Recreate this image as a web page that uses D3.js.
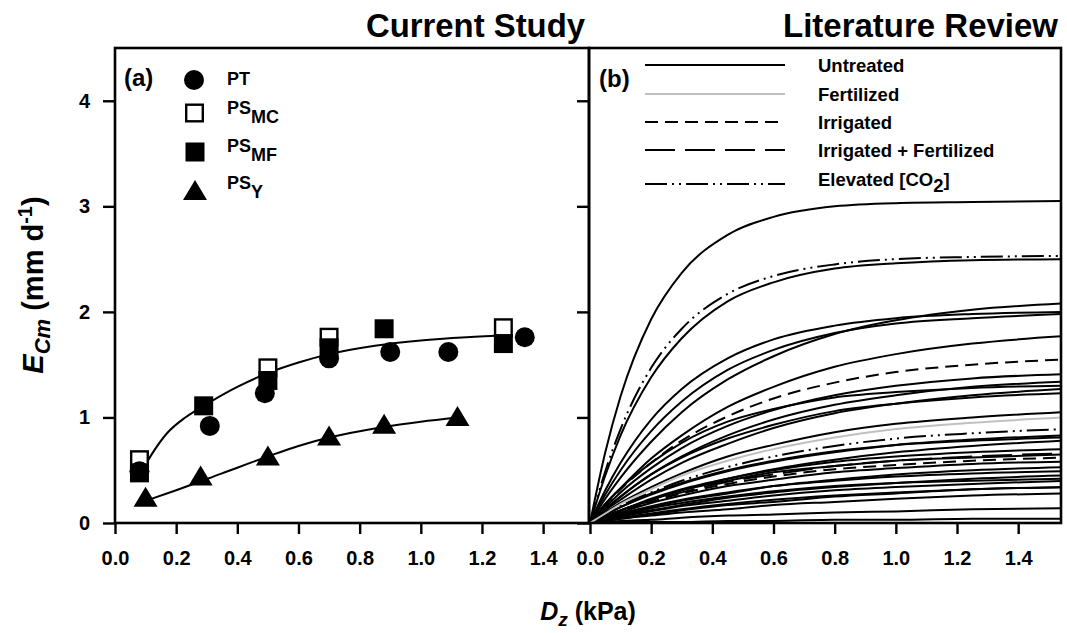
<!DOCTYPE html>
<html>
<head>
<meta charset="utf-8">
<script src="https://cdn.jsdelivr.net/npm/d3@7"></script>
<style>
body { margin: 0; background: #fff; }
svg text { font-family: "Liberation Sans", Arial, sans-serif; font-weight: bold; fill: #000; }
</style>
</head>
<body>
<svg id="chart" width="1067" height="633"></svg>
<script>
// ---- data ----
const xTicks = [0, 0.2, 0.4, 0.6, 0.8, 1.0, 1.2, 1.4];
const yTicks = [0, 1, 2, 3, 4];

// panel (a) observations
const ptX = [0.08, 0.31, 0.49, 0.70, 0.90, 1.09, 1.34];
const ptY = [0.49, 0.92, 1.23, 1.56, 1.62, 1.62, 1.76];
const mcX = [0.08, 0.50, 0.70, 1.27];
const mcY = [0.60, 1.47, 1.76, 1.85];
const mfX = [0.08, 0.29, 0.50, 0.70, 0.88, 1.27];
const mfY = [0.475, 1.11, 1.35, 1.66, 1.84, 1.70];
const psyX = [0.10, 0.28, 0.50, 0.70, 0.88, 1.12];
const psyY = [0.24, 0.44, 0.63, 0.82, 0.93, 1.005];

// panel (a) fitted curves
const fitPsX = [0.08, 0.12, 0.17, 0.23, 0.29, 0.40, 0.50, 0.60, 0.70, 0.85, 1.00, 1.15, 1.30];
const fitPsY = [0.45, 0.65, 0.85, 1.00, 1.11, 1.29, 1.42, 1.52, 1.60, 1.68, 1.73, 1.76, 1.78];
const fitYX = [0.10, 0.20, 0.35, 0.50, 0.60, 0.70, 0.80, 0.90, 1.00, 1.12];
const fitYY = [0.21, 0.31, 0.47, 0.63, 0.73, 0.81, 0.87, 0.92, 0.96, 1.00];

// panel (b) literature curves, sampled at litX
const litX = [0, 0.05, 0.1, 0.2, 0.3, 0.45, 0.6, 0.8, 1.0, 1.25, 1.55];
const litTypes = [
  "untreated", "co2", "untreated", "untreated", "untreated", "untreated", "untreated",
  "irrigated", "untreated", "untreated", "untreated", "untreated", "untreated", "untreated",
  "co2", "untreated", "untreated", "untreated", "irrfert", "irrigated",
  "untreated", "untreated", "untreated", "untreated", "untreated", "untreated", "untreated",
  "untreated", "untreated", "untreated", "untreated", "untreated", "untreated", "fertilized"
];
const litValues = [
  [0, 0.67, 1.20, 1.93, 2.37, 2.73, 2.90, 3.00, 3.03, 3.04, 3.05],
  [0, 0.49, 0.89, 1.47, 1.84, 2.17, 2.34, 2.45, 2.50, 2.52, 2.53],
  [0, 0.45, 0.83, 1.38, 1.75, 2.10, 2.28, 2.41, 2.46, 2.49, 2.50],
  [0, 0.23, 0.43, 0.77, 1.05, 1.36, 1.58, 1.79, 1.92, 2.02, 2.08],
  [0, 0.31, 0.57, 0.98, 1.27, 1.56, 1.74, 1.87, 1.94, 1.98, 2.00],
  [0, 0.27, 0.50, 0.87, 1.15, 1.45, 1.64, 1.80, 1.89, 1.94, 1.98],
  [0, 0.18, 0.33, 0.61, 0.83, 1.10, 1.29, 1.48, 1.60, 1.70, 1.77],
  [0, 0.17, 0.32, 0.57, 0.78, 1.01, 1.18, 1.33, 1.43, 1.50, 1.55],
  [0, 0.15, 0.29, 0.52, 0.71, 0.92, 1.07, 1.21, 1.30, 1.37, 1.41],
  [0, 0.13, 0.25, 0.46, 0.63, 0.83, 0.98, 1.12, 1.21, 1.29, 1.34],
  [0, 0.18, 0.33, 0.57, 0.76, 0.96, 1.08, 1.19, 1.24, 1.28, 1.30],
  [0, 0.12, 0.22, 0.41, 0.57, 0.75, 0.90, 1.04, 1.13, 1.21, 1.27],
  [0, 0.13, 0.25, 0.46, 0.62, 0.80, 0.93, 1.06, 1.13, 1.19, 1.23],
  [0, 0.10, 0.19, 0.34, 0.47, 0.63, 0.74, 0.86, 0.94, 1.00, 1.05],
  [0, 0.08, 0.16, 0.29, 0.40, 0.53, 0.63, 0.73, 0.80, 0.85, 0.89],
  [0, 0.08, 0.15, 0.27, 0.37, 0.49, 0.58, 0.67, 0.74, 0.79, 0.83],
  [0, 0.08, 0.15, 0.28, 0.38, 0.50, 0.59, 0.68, 0.74, 0.78, 0.81],
  [0, 0.06, 0.12, 0.22, 0.31, 0.42, 0.51, 0.60, 0.67, 0.73, 0.78],
  [0, 0.06, 0.12, 0.21, 0.29, 0.39, 0.46, 0.54, 0.59, 0.63, 0.66],
  [0, 0.06, 0.11, 0.20, 0.28, 0.37, 0.44, 0.51, 0.55, 0.59, 0.62],
  [0, 0.07, 0.12, 0.23, 0.32, 0.42, 0.50, 0.58, 0.63, 0.67, 0.70],
  [0, 0.06, 0.12, 0.22, 0.31, 0.40, 0.48, 0.54, 0.59, 0.62, 0.65],
  [0, 0.05, 0.10, 0.19, 0.26, 0.35, 0.41, 0.48, 0.52, 0.56, 0.58],
  [0, 0.04, 0.08, 0.15, 0.21, 0.28, 0.35, 0.41, 0.46, 0.50, 0.53],
  [0, 0.05, 0.09, 0.16, 0.22, 0.29, 0.35, 0.40, 0.44, 0.47, 0.49],
  [0, 0.03, 0.07, 0.12, 0.17, 0.24, 0.29, 0.34, 0.38, 0.42, 0.45],
  [0, 0.04, 0.07, 0.14, 0.19, 0.25, 0.30, 0.35, 0.38, 0.40, 0.42],
  [0, 0.03, 0.06, 0.11, 0.16, 0.21, 0.26, 0.31, 0.34, 0.37, 0.40],
  [0, 0.02, 0.04, 0.08, 0.12, 0.17, 0.20, 0.25, 0.28, 0.32, 0.34],
  [0, 0.03, 0.05, 0.09, 0.13, 0.18, 0.22, 0.26, 0.29, 0.32, 0.34],
  [0, 0.02, 0.04, 0.07, 0.10, 0.13, 0.17, 0.20, 0.23, 0.26, 0.28],
  [0, 0.01, 0.02, 0.03, 0.05, 0.07, 0.08, 0.10, 0.11, 0.13, 0.14],
  [0, 0.00, 0.01, 0.01, 0.01, 0.02, 0.02, 0.03, 0.03, 0.04, 0.04],
  [0, 0.09, 0.18, 0.32, 0.45, 0.59, 0.70, 0.81, 0.89, 0.95, 1.00]
];

const legendTypes = ["untreated", "fertilized", "irrigated", "irrfert", "co2"];
const legendLabels = ["Untreated", "Fertilized", "Irrigated", "Irrigated + Fertilized", "Elevated [CO2]"];

const dashOf = { untreated: null, fertilized: null, irrigated: "13,7", irrfert: "30,10", co2: "22,5,2,5,2,5" };
const colorOf = { untreated: "#000", fertilized: "#c0c0c0", irrigated: "#000", irrfert: "#000", co2: "#000" };

// ---- scales ----
const svg = d3.select("#chart");
const x1 = d3.scaleLinear().domain([0, 1.55]).range([115, 589]);
const x2 = d3.scaleLinear().domain([0, 1.54]).range([590, 1061]);
const y = d3.scaleLinear().domain([0, 4.5]).range([523, 48]);

svg.append("defs").append("clipPath").attr("id", "clipB")
  .append("rect").attr("x", 590).attr("y", 48).attr("width", 471).attr("height", 475);

// ---- panel (a) ----
const lineA = d3.line().x(d => x1(d[0])).y(d => y(d[1])).curve(d3.curveMonotoneX);
[[fitPsX, fitPsY], [fitYX, fitYY]].forEach(([xs, ys]) => {
  svg.append("path").datum(d3.zip(xs, ys)).attr("d", lineA)
    .attr("fill", "none").attr("stroke", "#000").attr("stroke-width", 2);
});

const sq = 19;
const tri = "M0,-11L12,9L-12,9Z";

svg.append("g").selectAll("rect").data(d3.zip(mcX, mcY)).join("rect")
  .attr("x", d => x1(d[0]) - sq / 2 + 1.2).attr("y", d => y(d[1]) - sq / 2 + 1.2)
  .attr("width", sq - 2.4).attr("height", sq - 2.4)
  .attr("fill", "#fff").attr("stroke", "#000").attr("stroke-width", 2.4);
svg.append("g").selectAll("circle").data(d3.zip(ptX, ptY)).join("circle")
  .attr("cx", d => x1(d[0])).attr("cy", d => y(d[1])).attr("r", 10).attr("fill", "#000");
svg.append("g").selectAll("rect").data(d3.zip(mfX, mfY)).join("rect")
  .attr("x", d => x1(d[0]) - sq / 2).attr("y", d => y(d[1]) - sq / 2)
  .attr("width", sq).attr("height", sq).attr("fill", "#000");
svg.append("g").selectAll("path").data(d3.zip(psyX, psyY)).join("path")
  .attr("d", tri).attr("transform", d => `translate(${x1(d[0])},${y(d[1])})`).attr("fill", "#000");

// legend (a)
svg.append("text").attr("x", 124).attr("y", 86).attr("font-size", 24).text("(a)");
svg.append("circle").attr("cx", 194).attr("cy", 80).attr("r", 10).attr("fill", "#000");
svg.append("rect").attr("x", 186.2).attr("y", 104.7).attr("width", 16.6).attr("height", 16.6)
  .attr("fill", "#fff").attr("stroke", "#000").attr("stroke-width", 2.4);
svg.append("rect").attr("x", 185.5).attr("y", 142.5).attr("width", sq).attr("height", sq).attr("fill", "#000");
svg.append("path").attr("d", tri).attr("transform", "translate(195,191)").attr("fill", "#000");

const legA = [["PT", "", 85], ["PS", "MC", 114], ["PS", "MF", 152], ["PS", "Y", 189]];
legA.forEach(([main, sub, by]) => {
  const t = svg.append("text").attr("x", 227).attr("y", by).attr("font-size", 18);
  t.append("tspan").text(main);
  if (sub) t.append("tspan").attr("dy", 9).text(sub);
});

// ---- panel (b) ----
const lineB = d3.line().x((d, i) => x2(litX[i])).y(d => y(d)).curve(d3.curveMonotoneX);
svg.append("g").attr("clip-path", "url(#clipB)").selectAll("path")
  .data(litValues).join("path")
  .attr("d", lineB).attr("fill", "none")
  .attr("stroke", (d, i) => colorOf[litTypes[i]])
  .attr("stroke-width", 2)
  .attr("stroke-dasharray", (d, i) => dashOf[litTypes[i]]);

svg.append("text").attr("x", 599).attr("y", 87).attr("font-size", 24).text("(b)");
const legY = [65, 94, 122, 150, 184];
const labY = [72, 101, 129, 157, 186];
legendTypes.forEach((t, i) => {
  svg.append("line").attr("x1", 645).attr("x2", 785).attr("y1", legY[i]).attr("y2", legY[i])
    .attr("stroke", colorOf[t]).attr("stroke-width", 2).attr("stroke-dasharray", dashOf[t]);
  const txt = svg.append("text").attr("x", 818).attr("y", labY[i]).attr("font-size", 18.5);
  if (legendLabels[i].includes("CO2")) {
    txt.append("tspan").text("Elevated [CO");
    txt.append("tspan").attr("dy", 6).text("2");
    txt.append("tspan").attr("dy", -6).text("]");
  } else {
    txt.text(legendLabels[i]);
  }
});

// ---- axes ----
function styleAxis(g) {
  g.select(".domain").remove();
  g.selectAll(".tick line").attr("stroke", "#000").attr("stroke-width", 2.4);
  g.selectAll(".tick text").attr("font-size", 20);
}
svg.append("g").attr("transform", "translate(0,523)")
  .call(d3.axisBottom(x1).tickValues(xTicks).tickFormat(d3.format(".1f")).tickSize(11).tickPadding(17))
  .call(styleAxis);
svg.append("g").attr("transform", "translate(0,523)")
  .call(d3.axisBottom(x2).tickValues(xTicks).tickFormat(d3.format(".1f")).tickSize(11).tickPadding(17))
  .call(styleAxis);
svg.append("g").attr("transform", "translate(115,0)")
  .call(d3.axisLeft(y).tickValues(yTicks).tickFormat(d3.format("d")).tickSize(12).tickPadding(13))
  .call(styleAxis);
svg.append("g").attr("transform", "translate(589,0)")
  .call(d3.axisLeft(y).tickValues(yTicks).tickFormat("").tickSize(12))
  .call(styleAxis);

// frames
svg.append("rect").attr("x", 115).attr("y", 48).attr("width", 474).attr("height", 475)
  .attr("fill", "none").attr("stroke", "#000").attr("stroke-width", 2.6);
svg.append("rect").attr("x", 589).attr("y", 48).attr("width", 472).attr("height", 475)
  .attr("fill", "none").attr("stroke", "#000").attr("stroke-width", 2.6);

// titles
svg.append("text").attr("x", 585).attr("y", 37).attr("font-size", 34).attr("text-anchor", "end")
  .attr("textLength", 219).attr("lengthAdjust", "spacingAndGlyphs").text("Current Study");
svg.append("text").attr("x", 1058).attr("y", 37).attr("font-size", 34).attr("text-anchor", "end")
  .attr("textLength", 275).attr("lengthAdjust", "spacingAndGlyphs").text("Literature Review");

// axis titles
const yl = svg.append("text").attr("transform", "translate(43,285) rotate(-90)")
  .attr("text-anchor", "middle").attr("font-size", 29);
yl.append("tspan").attr("font-style", "italic").text("E");
yl.append("tspan").attr("font-style", "italic").attr("font-size", 22).attr("dy", 7).text("Cm");
yl.append("tspan").attr("dy", -7).text(" (mm d");
yl.append("tspan").attr("font-size", 20).attr("dy", -11).text("-1");
yl.append("tspan").attr("dy", 11).text(")");

const xl = svg.append("text").attr("x", 588).attr("y", 620).attr("text-anchor", "middle").attr("font-size", 25);
xl.append("tspan").attr("font-style", "italic").text("D");
xl.append("tspan").attr("font-style", "italic").attr("font-size", 19).attr("dy", 6).text("z");
xl.append("tspan").attr("dy", -6).text(" (kPa)");
</script>
</body>
</html>
